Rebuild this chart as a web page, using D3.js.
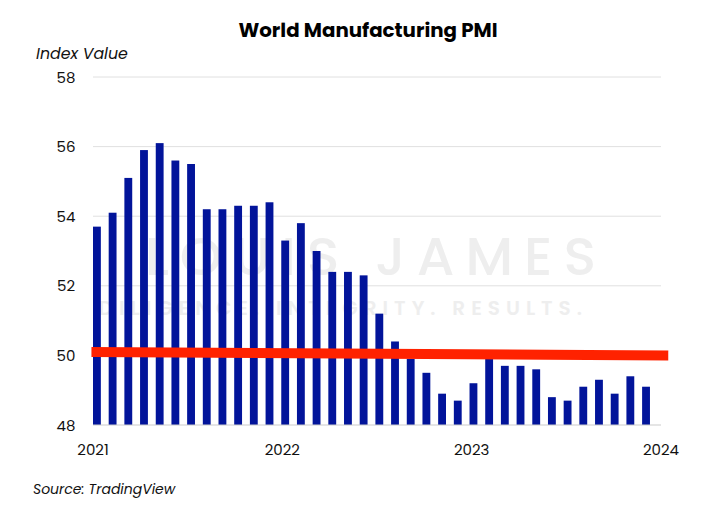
<!DOCTYPE html>
<html>
<head>
<meta charset="utf-8">
<script src="https://cdn.jsdelivr.net/npm/d3@7"></script>
<style>
  html, body { margin: 0; padding: 0; background: #fff; }
  svg { display: block; }
  text { font-family: "Poppins", "Inter", "Open Sans", sans-serif; }
</style>
</head>
<body>
<svg id="chart" width="724" height="526"></svg>
<script>
// ---- data ----
const months = d3.range(36).map(i => new Date(2021, i, 1));
const pmiValues = [
  53.7, 54.1, 55.1, 55.9, 56.1, 55.6, 55.5, 54.2, 54.2, 54.3, 54.3, 54.4,
  53.3, 53.8, 53.0, 52.4, 52.4, 52.3, 51.2, 50.4, 49.9, 49.5, 48.9, 48.7,
  49.2, 49.9, 49.7, 49.7, 49.6, 48.8, 48.7, 49.1, 49.3, 48.9, 49.4, 49.1
];
const yTicks = [48, 50, 52, 54, 56, 58];
const xTickYears = [2021, 2022, 2023, 2024];
const thresholdLine = [
  { date: new Date(2020, 11, 29), value: 50.1 },
  { date: new Date(2024, 0, 15), value: 50.0 }
];
const titleText = "World Manufacturing PMI";
const yAxisTitle = "Index Value";
const sourceText = "Source: TradingView";

// ---- layout ----
const svg = d3.select("#chart");
const plotLeft = 93, plotRight = 661, plotTop = 77, plotBottom = 425;

const y = d3.scaleLinear().domain([48, 58]).range([plotBottom, plotTop]);
const xTime = d3.scaleTime()
  .domain([new Date(2021, 0, 1), new Date(2024, 0, 1)])
  .range([plotLeft, plotRight]);
const xBand = d3.scaleBand()
  .domain(months.map(d => +d))
  .range([plotLeft, 657.8])
  .paddingInner(0.5)
  .paddingOuter(0.25)
  .align(0);

// watermark
const wm = svg.append("g").attr("fill", "#eeeeee").attr("text-anchor", "end");
wm.append("text")
  .attr("x", 607).attr("y", 275)
  .attr("font-size", 54)
  .attr("font-weight", 500)
  .attr("letter-spacing", 11)
  .text("LOUIS JAMES");
wm.append("text")
  .attr("x", 588).attr("y", 315)
  .attr("font-size", 20)
  .attr("font-weight", 600)
  .attr("letter-spacing", 6)
  .text("DILIGENCE. INTEGRITY. RESULTS.");

// grid lines
svg.append("g")
  .selectAll("line")
  .data(yTicks.filter(t => t !== 48))
  .join("line")
  .attr("x1", plotLeft).attr("x2", plotRight)
  .attr("y1", d => y(d)).attr("y2", d => y(d))
  .attr("stroke", "#e0e0e0").attr("stroke-width", 1);

// y tick labels
svg.append("g")
  .selectAll("text")
  .data(yTicks)
  .join("text")
  .attr("x", 66).attr("y", d => y(d))
  .attr("text-anchor", "middle")
  .attr("dominant-baseline", "central")
  .attr("font-size", 15)
  .attr("fill", "#111")
  .text(d => d);

// bars
svg.append("g")
  .selectAll("rect")
  .data(months.map((m, i) => ({ m, v: pmiValues[i] })))
  .join("rect")
  .attr("x", d => xBand(+d.m))
  .attr("width", xBand.bandwidth())
  .attr("y", d => y(d.v))
  .attr("height", d => y(48) - y(d.v))
  .attr("fill", "#02149a");

// baseline
svg.append("line")
  .attr("x1", plotLeft).attr("x2", plotRight)
  .attr("y1", y(48)).attr("y2", y(48))
  .attr("stroke", "#cccccc").attr("stroke-width", 1.2);

// x axis labels
svg.append("g")
  .selectAll("text")
  .data(xTickYears)
  .join("text")
  .attr("x", d => xTime(new Date(d, 0, 1)))
  .attr("y", 449)
  .attr("text-anchor", "middle")
  .attr("dominant-baseline", "central")
  .attr("font-size", 15)
  .attr("fill", "#111")
  .text(d => d);

// threshold line
svg.append("path")
  .datum(thresholdLine)
  .attr("d", d3.line().x(d => xTime(d.date)).y(d => y(d.value)))
  .attr("stroke", "#ff2200")
  .attr("stroke-width", 10)
  .attr("fill", "none");

// title
svg.append("text")
  .attr("x", 368).attr("y", 30)
  .attr("text-anchor", "middle")
  .attr("dominant-baseline", "central")
  .attr("font-size", 19.8)
  .attr("font-weight", 700)
  .attr("fill", "#000")
  .text(titleText);

// y axis title
svg.append("text")
  .attr("x", 36).attr("y", 53)
  .attr("dominant-baseline", "central")
  .attr("font-size", 15.8)
  .attr("font-style", "italic")
  .attr("fill", "#111")
  .text(yAxisTitle);

// source
svg.append("text")
  .attr("x", 33).attr("y", 489)
  .attr("dominant-baseline", "central")
  .attr("font-size", 14)
  .attr("font-style", "italic")
  .attr("fill", "#111")
  .text(sourceText);
</script>
</body>
</html>
